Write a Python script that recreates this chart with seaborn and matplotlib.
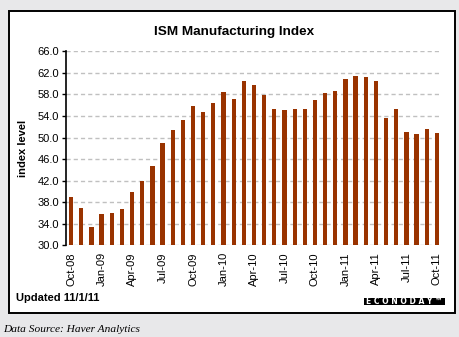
import matplotlib
matplotlib.use("Agg")
import matplotlib.pyplot as plt
import seaborn as sns
import pandas as pd
from matplotlib.patches import Rectangle
from matplotlib.ticker import FormatStrFormatter

months = ["Oct-08", "Nov-08", "Dec-08", "Jan-09", "Feb-09", "Mar-09", "Apr-09", "May-09",
          "Jun-09", "Jul-09", "Aug-09", "Sep-09", "Oct-09", "Nov-09", "Dec-09", "Jan-10",
          "Feb-10", "Mar-10", "Apr-10", "May-10", "Jun-10", "Jul-10", "Aug-10", "Sep-10",
          "Oct-10", "Nov-10", "Dec-10", "Jan-11", "Feb-11", "Mar-11", "Apr-11", "May-11",
          "Jun-11", "Jul-11", "Aug-11", "Sep-11", "Oct-11"]
values = [38.9, 36.9, 33.4, 35.8, 36.0, 36.7, 39.9, 42.0, 44.7, 49.0, 51.4, 53.3,
          55.9, 54.7, 56.4, 58.4, 57.2, 60.5, 59.7, 57.9, 55.3, 55.1, 55.3, 55.3,
          57.0, 58.3, 58.6, 60.9, 61.4, 61.2, 60.5, 53.6, 55.3, 51.0, 50.7, 51.6, 50.8]
yticks = [30, 34, 38, 42, 46, 50, 54, 58, 62, 66]

df = pd.DataFrame({"month": months, "value": values})

sns.set_style("white")
plt.rcParams['font.family'] = ['Liberation Sans', 'DejaVu Sans']
plt.rcParams['text.color'] = 'black'
plt.rcParams['xtick.color'] = 'black'
plt.rcParams['ytick.color'] = 'black'
plt.rcParams['axes.labelcolor'] = 'black'

fig = plt.figure(figsize=(4.6, 3.37), dpi=100)
fig.patch.set_facecolor("#e8e8ea")
fig.patches.append(Rectangle((9.5/460, 1 - 312.5/337), 446/460, 302/337,
                             transform=fig.transFigure, facecolor="white",
                             edgecolor="black", linewidth=1.4, zorder=0))
# Econoday logo box
fig.patches.append(Rectangle((364/460, 1 - 304.5/337), 81/460, 6.5/337,
                             transform=fig.transFigure, facecolor="black",
                             edgecolor="none", zorder=1))

ax = fig.add_axes([66/460, 1 - 245.3/337, 376/460, 194/337])
ax.set_zorder(2)
ax.set_facecolor("none")
sns.barplot(data=df, x="month", y="value", order=months, color="#993300",
            saturation=1, width=0.42, linewidth=0, ax=ax, zorder=3)

ax.set_ylim(30, 66)
ax.set_xlim(-0.5, len(months) - 0.5)
ax.set_yticks(yticks)
ax.yaxis.set_major_formatter(FormatStrFormatter("%.1f"))
ax.grid(axis="y", color="#c0c0c0", linestyle=(0, (3, 2.2)), linewidth=1.0, zorder=0)
ax.set_axisbelow(True)

tick_pos = list(range(0, len(months), 3))
ax.set_xticks(tick_pos)
ax.set_xticklabels([months[i] for i in tick_pos], rotation=90, fontsize=8)
ax.tick_params(axis="y", labelsize=8, length=3, width=1, direction="out", left=True, pad=2)
ax.tick_params(axis="x", length=0, pad=5)

for s in ["top", "right", "bottom"]:
    ax.spines[s].set_visible(False)
ax.spines["left"].set_color("black")
ax.spines["left"].set_linewidth(1.2)

ax.set_xlabel("")
ax.set_ylabel("index level", fontsize=8, fontweight="bold", labelpad=7)

fig.text(234/460, 1 - 32.5/337, "ISM Manufacturing Index", ha="center", va="center",
         fontsize=9.7, fontweight="bold")
fig.text(16/460, 1 - 298/337, "Updated 11/1/11", ha="left", va="center",
         fontsize=8, fontweight="bold")
fig.text(404.5/460, 1 - 301.3/337, "E C O N O D A Y \u2122", ha="center", va="center",
         fontsize=5.5, fontweight="bold", color="white", family="DejaVu Sans")
fig.text(3/460, 1 - 329/337, "Data Source: Haver Analytics", ha="left", va="center",
         fontsize=8.2, fontstyle="italic", family="Liberation Serif")

fig.savefig("out.png", dpi=100, facecolor=fig.get_facecolor())
